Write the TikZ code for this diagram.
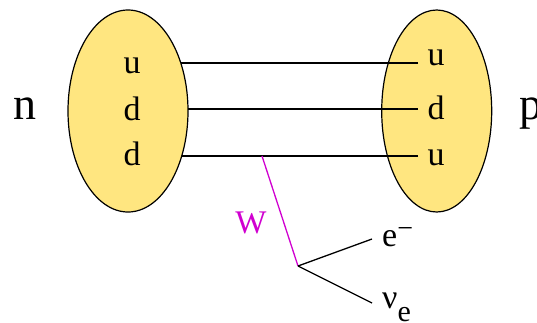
\documentclass[tikz,border=0pt]{standalone}
\usepackage{fontspec}
\setmainfont{Liberation Serif}
\usetikzlibrary{shapes.geometric}
\definecolor{hadronfill}{HTML}{FFE680}
\definecolor{wboson}{HTML}{D000D0}
\tikzset{
  hadron/.style={ellipse, draw=black, line width=1.2pt, fill=hadronfill,
    inner sep=0pt, minimum height=202pt},
  quark/.style={font=\fontsize{34}{34}\selectfont, inner sep=0pt, anchor=base},
  particle/.style={font=\fontsize{46}{46}\selectfont, inner sep=0pt},
  lepton/.style={font=\fontsize{34}{34}\selectfont, inner sep=0pt, anchor=base west},
  qline/.style={line width=1.3pt, draw=black},
  wline/.style={line width=1.3pt, draw=wboson},
}
\begin{document}
\begin{tikzpicture}[x=1pt,y=-1pt]
\useasboundingbox (0,0) rectangle (537,322);

% proton
\node[hadron, minimum width=110pt] (pR) at (436.7,111) {};
\node[quark] (r1) at (436,65) {u};
\node[quark] (r2) at (436,119) {d};
\node[quark] (r3) at (436,165) {u};

% spectator and decaying quark lines
\coordinate (cL) at (128,111);
\coordinate (e1) at (418,63);
\coordinate (e2) at (418,109);
\coordinate (e3) at (418,156);
\draw[qline] (e1) -- (e1 -| cL);
\draw[qline] (e2) -- (e2 -| cL);
\draw[qline] (e3) -- (e3 -| cL);

% neutron
\node[hadron, minimum width=120pt] (nL) at (cL) {};
\node[quark] (l1) at (132,73) {u};
\node[quark] (l2) at (132,120) {d};
\node[quark] (l3) at (132,165) {d};

% hadron labels
\node[particle, anchor=base] (nlab) at (24.5,119) {n};
\node[particle, anchor=base west] (plab) at (519,119) {p};

% W emission and decay
\coordinate (wtop) at (262,156);
\coordinate (v) at (298,266);
\coordinate (eend) at (372,239);
\coordinate (nuend) at (372,303);
\draw[wline] (wtop) -- (v);
\node[font=\fontsize{33}{33}\selectfont, text=wboson, inner sep=0pt, anchor=base] (wlab) at (251,233) {W};
\draw[qline] (v) -- (eend);
\draw[qline] (v) -- (nuend);
\node[lepton] (elab) at (382,246) {e\raisebox{9pt}{\fontsize{28}{28}\selectfont −}};
\node[lepton] (nulab) at (382,308) {ν\raisebox{-13pt}{\fontsize{30}{30}\selectfont e}};
\end{tikzpicture}
\end{document}
